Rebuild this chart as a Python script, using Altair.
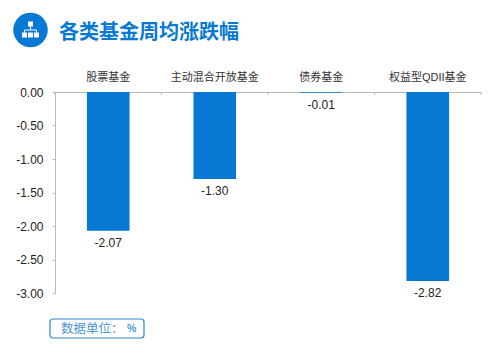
import altair as alt
import pandas as pd

categories = ["股票基金", "主动混合开放基金", "债券基金", "权益型QDII基金"]
values = [-2.07, -1.30, -0.01, -2.82]
title_text = "各类基金周均涨跌幅"
unit_text = "数据单位："
unit_sign = "%"
y_ticks = [0.0, -0.5, -1.0, -1.5, -2.0, -2.5, -3.0]

BLUE = "#0779d4"
GREY = "#bbbbbb"
FONT = "Liberation Sans, Noto Sans CJK SC"
CJK = "Noto Sans CJK SC"
df = pd.DataFrame({"c": categories, "v": values, "t": [f"{v:.2f}" for v in values]})
one = pd.DataFrame({"a": [0]})
STEP = 106.5

xscale = alt.Scale(paddingInner=0.6, paddingOuter=0.3)
yscale = alt.Scale(domain=[-3, 0], nice=False)
xaxis = alt.Axis(orient="top", labelAngle=0, labelFont=FONT, labelFontSize=11,
                 labelColor="#333333", labelPadding=10, ticks=False,
                 domainColor=GREY, grid=False, labelOverlap=False)
yaxis = alt.Axis(values=y_ticks, format=".2f",
                 labelExpr="replace(datum.label, '\u2212', '-')",
                 labelFont=FONT, labelFontSize=12, labelOverlap=False,
                 labelColor="#222222", labelPadding=9, tickColor=GREY, tickSize=3,
                 domainColor=GREY, grid=False)
xenc = alt.X("c:N", sort=categories, title=None, scale=xscale, axis=xaxis)
yenc = alt.Y("v:Q", title=None, scale=yscale, axis=yaxis)

bars = alt.Chart(df).mark_bar(color=BLUE).encode(x=xenc, y=yenc, y2=alt.datum(0))
labels = alt.Chart(df).mark_text(font=FONT, fontSize=12, color="#222222", baseline="middle", dy=12).encode(
    x=xenc, y=yenc, text="t:N")

# category separators hang below the zero line
ticks_left = alt.Chart(df).mark_rule(color=GREY, xOffset=-STEP / 2).encode(
    x=xenc, y=alt.value(0), y2=alt.value(3))
ticks_right = alt.Chart(df.tail(1)).mark_rule(color=GREY, xOffset=STEP / 2).encode(
    x=xenc, y=alt.value(0), y2=alt.value(3))

# header icon
circle = alt.Chart(one).mark_point(shape="circle", filled=True, color=BLUE, opacity=1, size=1194).encode(
    x=alt.value(-24.5), y=alt.value(-62))
icon_layers = [
    alt.Chart(one).mark_square(color="white", opacity=1, size=25, filled=True).encode(
        x=alt.value(px), y=alt.value(py))
    for px, py in [(-24.5, -68), (-30.5, -57), (-24.5, -57), (-18.5, -57)]
]
link_layers = [
    alt.Chart(one).mark_rule(color="white", strokeWidth=1).encode(
        x=alt.value(x1), x2=alt.value(x2), y=alt.value(y1), y2=alt.value(y2))
    for x1, x2, y1, y2 in [(-24.5, -24.5, -67, -62), (-30.5, -18.5, -62, -62),
                           (-30.5, -30.5, -62, -58), (-18.5, -18.5, -62, -58)]
]

title = alt.Chart(one).mark_text(text=title_text, font=CJK, fontSize=20, fontWeight="bold", color=BLUE,
                                 align="left", baseline="middle").encode(x=alt.value(4), y=alt.value(-59))
box = alt.Chart(one).mark_rect(fill="white", stroke="#2f86cc", strokeWidth=1.2, cornerRadius=3).encode(
    x=alt.value(-5), x2=alt.value(89), y=alt.value(227), y2=alt.value(246))
unit = alt.Chart(one).mark_text(text=unit_text, font=CJK, fontSize=12.5, color="#4a96d4",
                                align="left", baseline="middle").encode(x=alt.value(6), y=alt.value(237))
sign = alt.Chart(one).mark_text(text=unit_sign, font=FONT, fontSize=10.5, fontWeight="bold", color="#4a96d4",
                                align="left", baseline="middle").encode(x=alt.value(72), y=alt.value(237))

chart = alt.layer(bars, labels, ticks_left, ticks_right, circle, *link_layers, *icon_layers,
                  title, box, unit, sign).properties(
    width=426, height=201,
    autosize=alt.AutoSizeParams(type="none"),
    padding={"left": 47, "top": 84, "right": 11, "bottom": 55},
).configure_view(stroke=None)

chart.save("out.html", embed_options={"renderer": "svg", "actions": False})
